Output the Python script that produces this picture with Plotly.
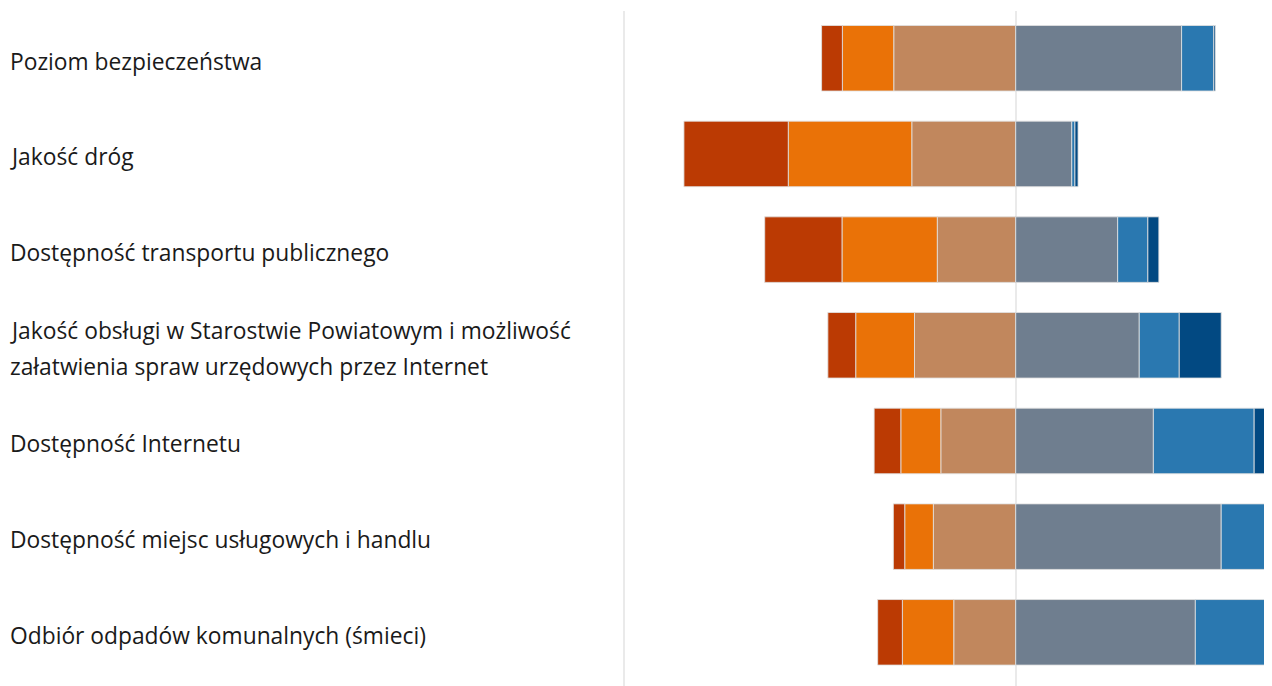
import plotly.graph_objects as go

categories = [
    "Poziom bezpieczeństwa",
    "Jakość dróg",
    "Dostępność transportu publicznego",
    "Jakość obsługi w Starostwie Powiatowym i możliwość<br>załatwienia spraw urzędowych przez Internet",
    "Dostępność Internetu",
    "Dostępność miejsc usługowych i handlu",
    "Odbiór odpadów komunalnych (śmieci)",
]
label_lines = [c.split("<br>") for c in categories]

bardzo_zle = [5.3, 26.6, 19.7, 7.1, 6.8, 2.9, 6.3]
zle = [13.1, 31.5, 24.3, 15.0, 10.2, 7.3, 13.1]
raczej_zle = [31.1, 26.5, 20.0, 25.8, 19.1, 21.0, 15.8]
raczej_dobrze = [42.3, 14.3, 26.0, 31.5, 35.1, 52.4, 45.8]
dobrze = [8.2, 0.8, 7.7, 10.2, 25.7, 14.4, 17.7]
bardzo_dobrze = [0.4, 0.8, 2.8, 10.7, 3.5, 2.0, 1.3]

series = [
    ("Raczej źle", [-v for v in raczej_zle], "#C1875D"),
    ("Źle", [-v for v in zle], "#EA7207"),
    ("Bardzo źle", [-v for v in bardzo_zle], "#BB3A03"),
    ("Raczej dobrze", raczej_dobrze, "#6F7E8F"),
    ("Dobrze", dobrze, "#2A78B0"),
    ("Bardzo dobrze", bardzo_dobrze, "#024982"),
]

fig = go.Figure()
for name, vals, col in series:
    fig.add_trace(go.Bar(
        y=list(range(len(categories))), x=vals, name=name, orientation="h",
        marker=dict(color=col, line=dict(color="rgba(225,225,225,0.85)", width=1)),
        width=0.685,
    ))

W, H = 1272, 686
ml, mr, mt, mb = 612, 0, 3, 8
fig.update_layout(
    width=W, height=H, barmode="relative", showlegend=False,
    paper_bgcolor="white", plot_bgcolor="white",
    margin=dict(l=ml, r=mr, t=mt, b=mb),
    xaxis=dict(range=[-100.9, 67.39], tickvals=[-100, 0, 100], showticklabels=False,
               showgrid=True, gridcolor="#EAEAEA", gridwidth=2, zeroline=False,
               showline=False, ticks=""),
    yaxis=dict(range=[6.561, -0.494], showticklabels=False, showgrid=False,
               zeroline=False, showline=False, ticks=""),
    font=dict(family="Open Sans, sans-serif", color="#1a1a1a"),
)

plot_w = W - ml - mr
for i, lines in enumerate(label_lines):
    n = len(lines)
    for j, line in enumerate(lines):
        off = (j - (n - 1) / 2) * 36
        fig.add_annotation(
            x=(0 - ml) / plot_w, xref="paper", y=i, yref="y",
            text=line, showarrow=False, xanchor="left", yanchor="middle",
            yshift=-3 - off, font=dict(size=22.8, color="#1a1a1a"),
        )

fig.write_html("out.html")
